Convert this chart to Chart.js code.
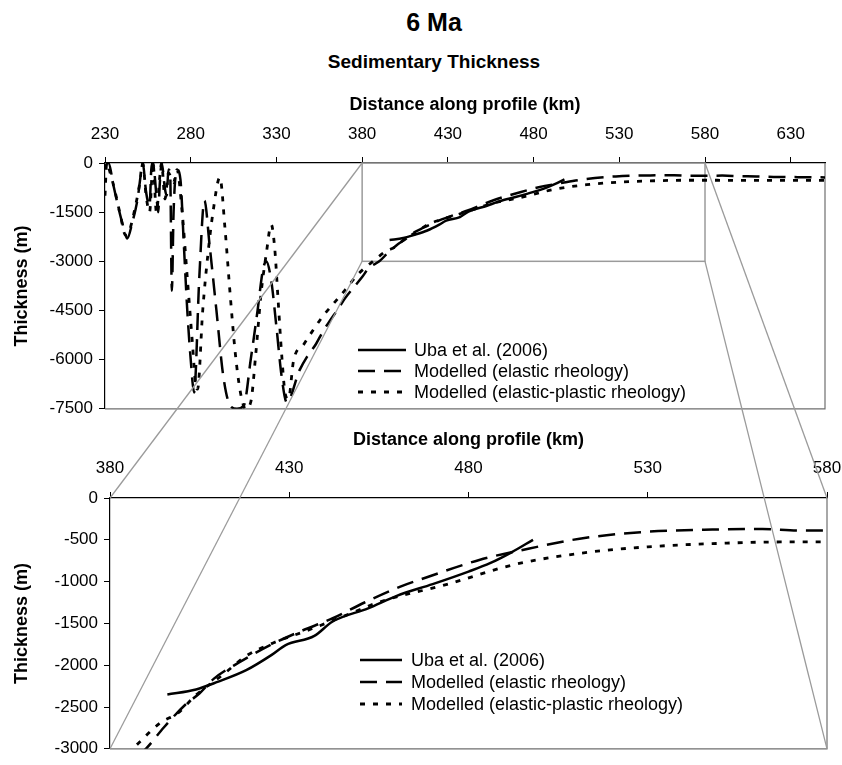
<!DOCTYPE html>
<html>
<head>
<meta charset="utf-8">
<title>6 Ma - Sedimentary Thickness</title>
<script src="https://cdn.jsdelivr.net/npm/chart.js@4/dist/chart.umd.min.js"></script>
<style>
    body { margin: 0; background: #ffffff; }
    #page { position: relative; width: 842px; height: 765px; font-family: "Liberation Sans", Arial, sans-serif; }
    .heading { position: absolute; left: 0; width: 868px; text-align: center; font-weight: bold; color: #000; }
    canvas { position: absolute; left: 0; }
</style>
</head>
<body>
<div id="page">
    <div class="heading" style="top: 8px; font-size: 25px;">6 Ma</div>
    <div class="heading" style="top: 51px; font-size: 19px;">Sedimentary Thickness</div>
    <canvas id="topChart" width="842" height="425" style="top: 0;"></canvas>
    <canvas id="bottomChart" width="842" height="340" style="top: 425px;"></canvas>
    <canvas id="connectors" width="842" height="765" style="top: 0; pointer-events: none;"></canvas>
</div>
<script>
// distance along profile (km) and thickness (m)
const ubaKm = [396, 404, 410, 418, 425, 429, 437, 442, 452, 460, 470, 480, 486, 492, 498];
const ubaThickness = [-2350, -2290, -2200, -2060, -1880, -1760, -1650, -1480, -1320, -1170, -1030, -880, -780, -650, -500];

const elasticKm = [
    230, 232, 235, 238, 241, 243, 246, 249, 251, 252,
    254, 256, 257, 258, 260, 261, 262, 263, 265, 266,
    267, 268, 269, 270, 272, 274, 276, 278, 280, 282,
    285, 288, 291, 295, 299, 303, 307, 311, 315, 319,
    322, 324, 327, 330, 333, 336, 343.5, 348, 353, 357,
    361, 366, 370, 375, 380, 384, 390, 395, 401, 405,
    409, 416, 425, 433, 442, 451, 461, 468, 483, 497,
    511, 528, 548, 562, 572, 580, 590, 600, 610, 620,
    635, 650,
];
const elasticThickness = [
    -100, 0, -700, -1400, -2000, -2300, -1800, -1100, -300, 0,
    -900, -1300, -200, 0, -1000, -1500, -600, 0, -800, -1000,
    -200, -300, -3900, -1500, -200, -500, -2500, -4500, -6000, -7000,
    -3500, -1150, -2500, -4500, -6500, -7400, -7500, -7400, -6000, -4500,
    -3300, -3000, -3600, -5000, -6500, -7300, -6320, -5900, -5530, -5150,
    -4830, -4450, -4130, -3800, -3480, -3200, -3000, -2745, -2473, -2336,
    -2161, -1967, -1752, -1597, -1441, -1250, -1060, -954, -741, -604,
    -487, -409, -378, -370, -390, -390, -385, -400, -410, -425,
    -432, -440,
];

const plasticKm = [
    230, 231, 233, 236, 239, 242, 244, 247, 250, 252,
    254, 256, 258, 260, 262, 263, 265, 267, 270, 272,
    275, 278, 281, 283, 284, 287, 290, 293, 297, 300,
    303, 306, 309, 312, 315, 318, 321, 324, 327, 329,
    331, 333, 335, 337, 340, 346, 351, 357, 363.5, 370,
    377.5, 383.5, 388, 394, 399, 404, 411.5, 418, 425.5, 435,
    447, 455, 474, 492.5, 511, 530, 548, 567, 580, 600,
    620, 650,
];
const plasticThickness = [
    -1000, 0, -300, -900, -1600, -2200, -2100, -1500, -700, 0,
    -1000, -1500, 0, -1500, -400, 0, -1100, -300, -600, -200,
    -1500, -3500, -5500, -6800, -6900, -4500, -2800, -1500, -440, -2000,
    -4000, -5800, -7000, -7500, -7300, -5800, -4000, -2800, -1880, -2600,
    -4200, -5800, -7000, -7200, -6030, -5530, -5130, -4680, -4280, -3880,
    -3400, -3120, -2930, -2690, -2570, -2356, -2114, -1889, -1734, -1585,
    -1383, -1246, -1033, -799, -662, -584, -546, -526, -526, -530,
    -531, -531,
];

// axis ticks
const topXTicks = [230, 280, 330, 380, 430, 480, 530, 580, 630];
const topYTicks = [0, -1500, -3000, -4500, -6000, -7500];
const bottomXTicks = [380, 430, 480, 530, 580];
const bottomYTicks = [0, -500, -1000, -1500, -2000, -2500, -3000];

const FONT = '"Liberation Sans", Arial, sans-serif';
const GRAY = "#9b9b9b";

Chart.defaults.font.family = FONT;
Chart.defaults.color = "#000";

function points(xs, ys) {
    return xs.map((x, i) => ({ x: x, y: ys[i] }));
}

function makeDatasets() {
    return [
        {
            label: "Uba et al. (2006)",
            data: points(ubaKm, ubaThickness),
            borderColor: "#000",
            borderWidth: 2.5,
            pointRadius: 0,
            cubicInterpolationMode: "monotone",
        },
        {
            label: "Modelled (elastic rheology)",
            data: points(elasticKm, elasticThickness),
            borderColor: "#000",
            borderWidth: 2.5,
            borderDash: [17, 9],
            pointRadius: 0,
            cubicInterpolationMode: "monotone",
        },
        {
            label: "Modelled (elastic-plastic rheology)",
            data: points(plasticKm, plasticThickness),
            borderColor: "#000",
            borderWidth: 2.8,
            borderDash: [5, 8],
            pointRadius: 0,
            cubicInterpolationMode: "monotone",
        },
    ];
}

// legend drawn inside the plot area, Excel style
const insideLegend = {
    id: "insideLegend",
    afterDatasetsDraw(chart, args, opts) {
        const { ctx, chartArea } = chart;
        ctx.save();
        ctx.font = "18px " + FONT;
        ctx.fillStyle = "#000";
        ctx.textBaseline = "middle";
        chart.data.datasets.forEach((ds, i) => {
            const x = chartArea.left + opts.left;
            const y = chartArea.top + opts.top + i * opts.rowGap;
            ctx.beginPath();
            ctx.setLineDash(ds.borderDash || []);
            ctx.lineWidth = ds.borderWidth;
            ctx.strokeStyle = ds.borderColor;
            ctx.moveTo(x, y);
            ctx.lineTo(x + opts.lineLength, y);
            ctx.stroke();
            ctx.setLineDash([]);
            ctx.fillText(ds.label, x + opts.lineLength + opts.textGap, y + 1);
        });
        ctx.restore();
    },
};

// gray right/bottom border of the plot area, plus the zoom box
const plotFrame = {
    id: "plotFrame",
    beforeDatasetsDraw(chart, args, opts) {
        const { ctx, chartArea, scales } = chart;
        ctx.save();
        ctx.strokeStyle = "#6f6f6f";
        ctx.lineWidth = 1.2;
        ctx.beginPath();
        ctx.moveTo(chartArea.right, chartArea.top);
        ctx.lineTo(chartArea.right, chartArea.bottom);
        ctx.lineTo(chartArea.left, chartArea.bottom);
        ctx.stroke();
        if (opts.box) {
            const x1 = scales.x.getPixelForValue(opts.box.xMin);
            const x2 = scales.x.getPixelForValue(opts.box.xMax);
            const y1 = scales.y.getPixelForValue(opts.box.yMax);
            const y2 = scales.y.getPixelForValue(opts.box.yMin);
            ctx.strokeStyle = GRAY;
            ctx.lineWidth = 1.5;
            ctx.strokeRect(x1, y1, x2 - x1, y2 - y1);
        }
        ctx.restore();
    },
};

function axisX(min, max, ticks, tickPadding) {
    return {
        type: "linear",
        position: "top",
        min: min,
        max: max,
        afterBuildTicks: (scale) => { scale.ticks = ticks.map((v) => ({ value: v })); },
        afterFit: (scale) => {
            scale.height = 73;
            scale.paddingLeft = 0;
            scale.paddingRight = 0;
        },
        grid: { drawOnChartArea: false, tickLength: 6, color: "#000", tickColor: "#000", tickWidth: 1 },
        border: { color: "#000", width: 1.2 },
        ticks: { padding: tickPadding, color: "#000", font: { size: 17 }, maxRotation: 0, callback: (v) => String(v) },
        title: {
            display: true,
            text: "Distance along profile (km)",
            color: "#000",
            font: { size: 18, weight: "bold" },
            padding: { top: 4, bottom: 0 },
        },
    };
}

function axisY(min, max, ticks, width) {
    return {
        type: "linear",
        min: min,
        max: max,
        afterBuildTicks: (scale) => { scale.ticks = ticks.map((v) => ({ value: v })); },
        afterFit: (scale) => { scale.width = width; },
        grid: { drawOnChartArea: false, tickLength: 6, color: "#000", tickColor: "#000", tickWidth: 1 },
        border: { color: "#000", width: 1.2 },
        ticks: { padding: 6, color: "#000", font: { size: 17 }, callback: (v) => String(v) },
        title: {
            display: true,
            text: "Thickness (m)",
            color: "#000",
            font: { size: 18, weight: "bold" },
            padding: { top: 11, bottom: 0 },
        },
    };
}

const topChart = new Chart(document.getElementById("topChart"), {
    type: "line",
    data: { datasets: makeDatasets() },
    options: {
        responsive: false,
        animation: false,
        layout: { padding: { top: 90, right: 17, bottom: 12, left: 0 } },
        plugins: {
            legend: { display: false },
            tooltip: { enabled: false },
            insideLegend: { left: 253, top: 187, rowGap: 21, lineLength: 48, textGap: 8 },
            plotFrame: { box: { xMin: 380, xMax: 580, yMin: -3000, yMax: 0 } },
        },
        scales: {
            x: axisX(230, 650, topXTicks, 12),
            y: axisY(-7500, 0, topYTicks, 105),
        },
    },
    plugins: [insideLegend, plotFrame],
});

const bottomChart = new Chart(document.getElementById("bottomChart"), {
    type: "line",
    data: { datasets: makeDatasets() },
    options: {
        responsive: false,
        animation: false,
        layout: { padding: { top: 0, right: 15, bottom: 10, left: 0 } },
        plugins: {
            legend: { display: false },
            tooltip: { enabled: false },
            insideLegend: { left: 250, top: 162, rowGap: 22, lineLength: 42, textGap: 9 },
            plotFrame: {},
        },
        scales: {
            x: axisX(380, 580, bottomXTicks, 13),
            y: axisY(-3000, 0, bottomYTicks, 110),
        },
    },
    plugins: [insideLegend, plotFrame],
});

// gray lines joining the zoom box in the top chart to the bottom chart
function drawConnectors() {
    const canvas = document.getElementById("connectors");
    const ctx = canvas.getContext("2d");
    const offset = document.getElementById("bottomChart").offsetTop;
    const t = topChart.scales;
    const b = bottomChart.scales;
    const corners = [[380, 0], [380, -3000], [580, 0], [580, -3000]];
    ctx.strokeStyle = GRAY;
    ctx.lineWidth = 1.3;
    corners.forEach(([km, m]) => {
        ctx.beginPath();
        ctx.moveTo(t.x.getPixelForValue(km), t.y.getPixelForValue(m));
        ctx.lineTo(b.x.getPixelForValue(km), b.y.getPixelForValue(m) + offset);
        ctx.stroke();
    });
}

drawConnectors();
</script>
</body>
</html>
